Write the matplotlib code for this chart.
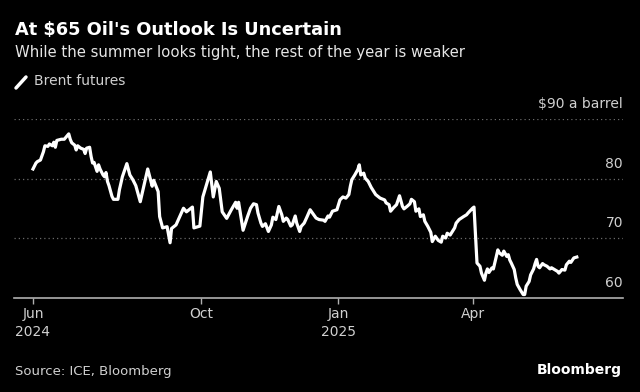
import matplotlib
matplotlib.use('Agg')
import matplotlib.pyplot as plt
import pandas as pd

# days counted from 10 Jun 2024, Brent settle in $/bbl
day = [0, 2, 3, 5, 7, 8, 10, 11, 13, 14, 15, 16, 19, 21, 22, 24, 25, 26, 28, 29,
       30, 32, 34, 35, 36, 38, 39, 40, 41, 43, 44, 45, 47, 48, 49, 50, 51, 53, 54, 57,
       58, 60, 63, 65, 67, 69, 72, 77, 80, 81, 84, 85, 87, 90, 92, 93, 96, 101, 103, 107,
       108, 112, 114, 119, 121, 123, 125, 127, 130, 133, 136, 137, 138, 141, 144, 146, 148, 150, 151, 153,
       154, 156, 158, 160, 161, 163, 165, 167, 168, 170, 171, 173, 174, 176, 177, 179, 180, 182, 184, 186,
       189, 190, 192, 195, 196, 198, 199, 201, 204, 206, 208, 210, 212, 213, 214, 216, 218, 219, 220, 222,
       223, 225, 227, 228, 230, 231, 233, 236, 237, 239, 240, 242, 244, 246, 248, 249, 251, 253, 254, 256,
       257, 259, 260, 262, 263, 265, 267, 268, 270, 272, 274, 275, 277, 278, 280, 283, 284, 286, 289, 291,
       292, 294, 295, 296, 298, 300, 301, 303, 304, 305, 306, 308, 309, 311, 312, 313, 315, 316, 318, 319,
       320, 321, 323, 324, 325, 327, 329, 330, 331, 333, 334, 336, 337, 338, 339, 340, 342, 343, 345, 347,
       348, 350, 352, 353, 355, 357, 358, 360, 361, 363, 365]
brent = [81.6, 82.6, 82.85, 83.1, 84.5, 85.5, 85.4, 85.8, 85.5, 86.1, 85.25, 86.4, 86.6, 86.6, 86.9, 87.5, 86.6, 86.0, 85.6, 84.8,
         85.5, 85.1, 84.9, 84.2, 85.1, 85.25, 83.7, 82.6, 82.7, 81.2, 82.3, 81.6, 80.6, 80.3, 81.0, 79.5, 78.8, 77.0, 76.5, 76.5,
         78.1, 80.3, 82.5, 80.6, 79.8, 78.8, 76.1, 81.6, 78.7, 79.7, 77.8, 73.6, 71.7, 71.9, 69.2, 71.6, 72.2, 75.0, 74.4, 75.2,
         71.7, 72.0, 76.9, 81.1, 76.9, 79.5, 78.35, 74.4, 73.3, 74.7, 76.0, 75.0, 76.0, 71.3, 73.6, 75.0, 75.75, 75.6, 74.2, 72.5,
         71.95, 72.4, 71.1, 72.2, 73.5, 73.1, 75.3, 73.9, 72.8, 73.35, 73.1, 72.0, 72.2, 73.7, 72.5, 71.1, 71.95, 72.5, 73.6, 74.75,
         73.7, 73.35, 73.1, 73.0, 72.8, 73.7, 73.5, 74.5, 74.75, 76.4, 76.9, 76.7, 77.3, 78.7, 79.8, 80.6, 81.5, 82.3, 80.6, 80.9,
         80.05, 79.5, 78.5, 78.1, 77.3, 77.1, 76.7, 76.4, 75.9, 75.6, 74.5, 75.1, 75.6, 77.1, 75.3, 74.9, 75.3, 75.75, 76.5, 76.1,
         74.5, 74.9, 73.6, 73.9, 72.8, 71.95, 70.95, 69.4, 70.3, 69.6, 69.3, 70.3, 70.0, 70.8, 70.5, 71.7, 72.5, 73.1, 73.6, 73.9,
         74.2, 74.75, 75.0, 75.2, 65.8, 65.25, 64.1, 62.9, 64.1, 64.8, 64.2, 64.97, 64.8, 66.9, 68.0, 67.5, 67.1, 67.8, 66.9, 67.2,
         66.3, 65.8, 64.7, 63.3, 62.2, 61.3, 60.5, 60.5, 61.9, 62.7, 63.8, 64.8, 65.7, 66.4, 65.25, 65.0, 65.7, 65.5, 65.25, 64.8,
         65.0, 64.7, 64.4, 64.1, 64.7, 64.6, 65.5, 66.1, 65.9, 66.65, 66.8]

tick_dates = ['2024-06-10', '2024-10-01', '2025-01-01', '2025-04-01']
tick_labels = ['Jun\n2024', 'Oct', 'Jan\n2025', 'Apr']
grid_vals = [60, 70, 80, 90]
grid_labels = ['60', '70', '80', r'\$90 a barrel']

start = pd.Timestamp('2024-06-10')
dates = start + pd.to_timedelta(day, unit='D')

bg = 'black'
txt = '#d0d0d0'

fig = plt.figure(figsize=(6.4, 3.92), dpi=100, facecolor=bg)
ax = fig.add_axes([14 / 640, 1 - 297.5 / 392, 609 / 640, 178.5 / 392], facecolor=bg)

ax.plot(dates, brent, color='white', lw=2.3, solid_joinstyle='round', clip_on=False, zorder=3)

ax.set_ylim(60, 90)
ax.set_xlim(start - pd.Timedelta(days=12.75), start + pd.Timedelta(days=396))

for v, lab in zip(grid_vals, grid_labels):
    if v > 60:
        ax.axhline(v, color='#6a6a6a', lw=0.9, ls=(0, (1, 2.4)), zorder=1)
    ax.annotate(lab, xy=(1, v), xycoords=('axes fraction', 'data'),
                xytext=(0, 10.5), textcoords='offset points',
                ha='right', va='center', color=txt, fontsize=10)

ax.set_yticks([])
ax.set_xticks(pd.to_datetime(tick_dates))
ax.set_xticklabels(tick_labels, color=txt, fontsize=10, linespacing=1.35)
ax.tick_params(axis='x', length=4, width=1, color='#b0b0b0', pad=3, direction='out')

for s in ['left', 'right', 'top']:
    ax.spines[s].set_visible(False)
ax.spines['bottom'].set_color('#b0b0b0')
ax.spines['bottom'].set_linewidth(1.2)

fig.text(15 / 640, 1 - 30 / 392, r"At \$65 Oil's Outlook Is Uncertain", color='white',
         fontsize=12.8, fontweight='bold', va='center', ha='left')
fig.text(15 / 640, 1 - 52 / 392, 'While the summer looks tight, the rest of the year is weaker',
         color='#e6e6e6', fontsize=10.7, va='center', ha='left')
fig.lines.append(plt.Line2D([16 / 640, 26 / 640], [1 - 88 / 392, 1 - 77 / 392],
                            transform=fig.transFigure, color='white', lw=2.5, solid_capstyle='round'))
fig.text(34 / 640, 1 - 81 / 392, 'Brent futures', color=txt, fontsize=10, va='center', ha='left')

fig.text(15 / 640, 1 - 371 / 392, 'Source: ICE, Bloomberg', color=txt, fontsize=9.5, va='center', ha='left')
fig.text(622 / 640, 1 - 370 / 392, 'Bloomberg', color='white', fontsize=10, fontweight='bold',
         va='center', ha='right')

fig.savefig('out.png', dpi=100, facecolor=bg)
